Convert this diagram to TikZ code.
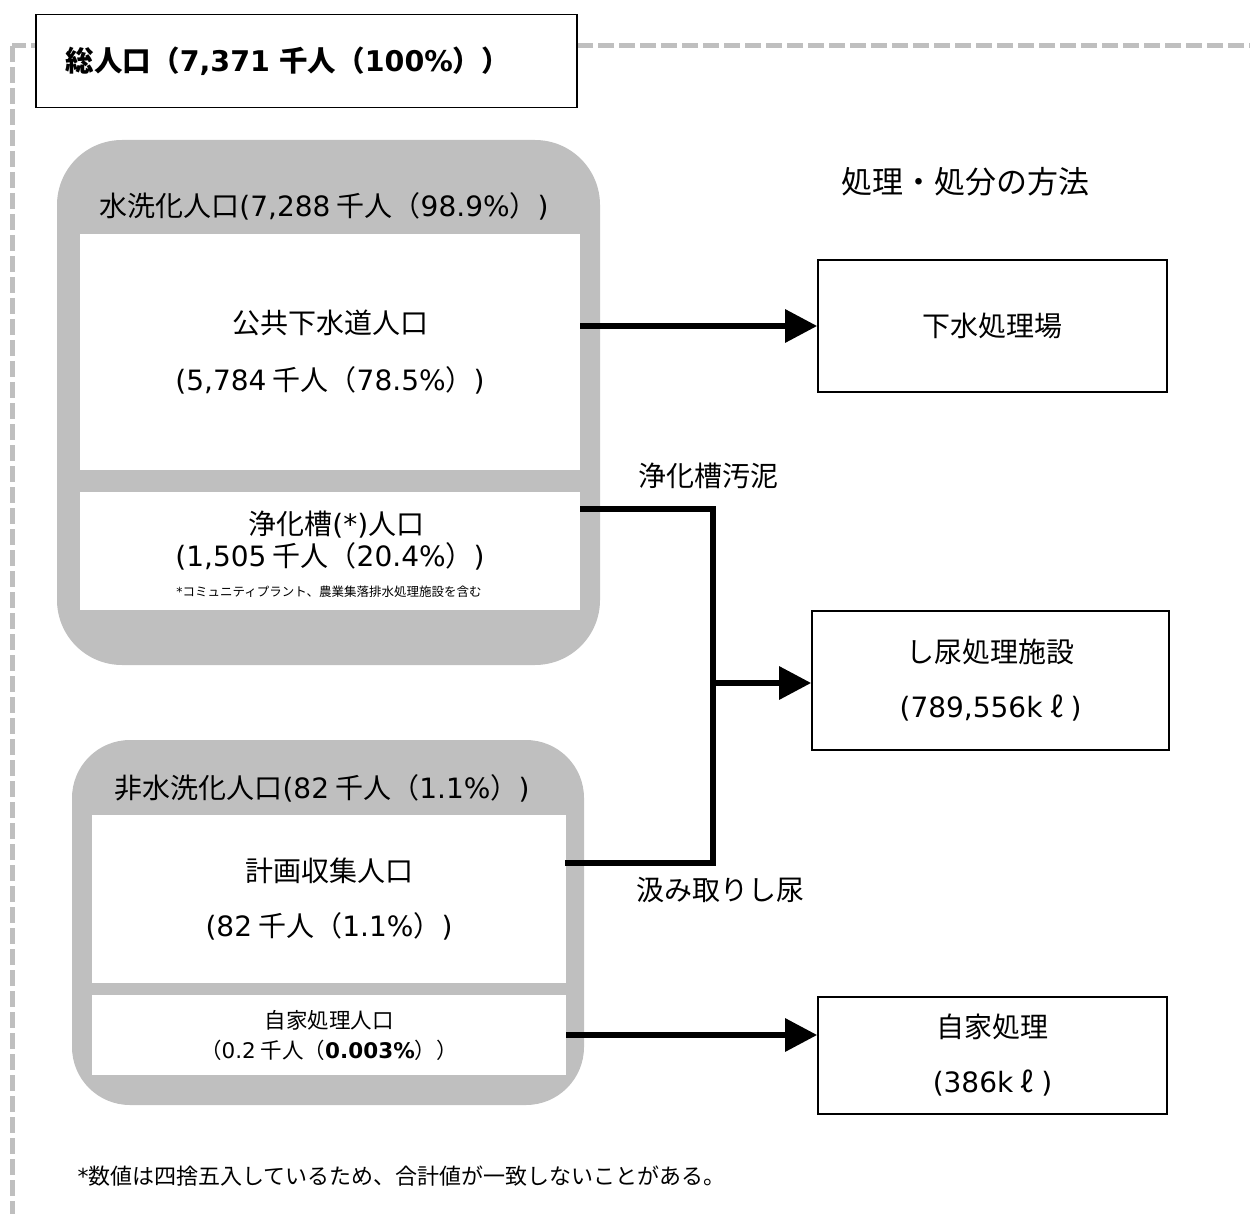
\documentclass[tikz,border=0pt]{standalone}
\usepackage{fontspec}
\setmainfont{Noto Sans CJK JP}
\newfontfamily\verd{DejaVu Sans}
\newcommand{\vd}[1]{{\verd #1}}
\newcommand{\litre}{\makebox[1em]{ℓ}}
\usetikzlibrary{arrows.meta}
\colorlet{pgray}{black!25}

\begin{document}
\begin{tikzpicture}[x=1pt, y=-1pt,
    panel/.style = {fill=pgray, rounded corners=65pt, inner sep=0pt},
    pop/.style = {fill=white, inner sep=0pt, align=center},
    dest/.style = {draw, line width=1.6pt, fill=white, inner sep=0pt, align=center, font=\fontsize{28}{55}\selectfont},
    flow/.style = {line width=6pt, -{Triangle[length=32pt, width=32pt]}},
    flow line/.style = {line width=6pt},
    big/.style = {font=\fontsize{28}{34}\selectfont}]
    \useasboundingbox (0,0) rectangle (1250,1214);
    \draw[pgray, line width=5pt, dash pattern=on 16pt off 5pt] (12,46) rectangle (1264,1216);

    \node[draw, line width=1.5pt, fill=white, anchor=west, minimum height=93pt, inner xsep=30pt, text width=481pt, align=left, font=\fontsize{28.5}{34}\selectfont\bfseries] (total) at (35,61) {総人口（\vd{7,371} 千人（\vd{100\%}））};

    \begin{scope}
        \node[panel, minimum width=543pt, minimum height=525pt] (flush) at (328.5,402.5) {};
        \node[big] (flush head) at (324,206) {水洗化人口\vd{(7,288} 千人（\vd{98.9\%}）\vd{)}};
        \node[pop, minimum width=500pt, minimum height=236pt, font=\fontsize{28}{57}\selectfont] (sewer pop) at (330,352) {公共下水道人口\\\vd{(5,784} 千人（\vd{78.5\%}）\vd{)}};
        \node[pop, minimum width=500pt, minimum height=118pt] (septic pop) at (330,551) {};
        \node[align=center, font=\fontsize{28}{32}\selectfont] (septic txt) at (330,541) {\ \ 浄化槽\vd{(*)}人口\\\vd{(1,505} 千人（\vd{20.4\%}）\vd{)}};
        \node[font=\fontsize{12.5}{15}\selectfont] (septic note) at (329,592) {\vd{*}コミュニティプラント、農業集落排水処理施設を含む};
    \end{scope}

    \begin{scope}
        \node[panel, rounded corners=58pt, minimum width=512pt, minimum height=365pt] (nonflush) at (328,922.5) {};
        \node[big] (nonflush head) at (322,788) {非水洗化人口\vd{(82} 千人（\vd{1.1\%}）\vd{)}};
        \node[pop, minimum width=474pt, minimum height=168pt, font=\fontsize{28}{55}\selectfont] (collect pop) at (329,899) {計画収集人口\\\vd{(82} 千人（\vd{1.1\%}）\vd{)}};
        \node[pop, minimum width=474pt, minimum height=80pt, font=\fontsize{21.5}{30}\selectfont] (home pop) at (329,1035) {自家処理人口\\（\vd{0.2} 千人（\textbf{\vd{0.003\%}}））};
    \end{scope}

    \node[font=\fontsize{31}{36}\selectfont] (method) at (965,182) {処理・処分の方法};
    \node[dest, minimum width=349pt, minimum height=132pt] (sewer works) at (992.5,326) {下水処理場};
    \node[dest, minimum width=357pt, minimum height=139pt] (soil works) at (990.5,680.5) {し尿処理施設\\\vd{(789,556k}\litre\vd{)}};
    \node[dest, minimum width=349pt, minimum height=117pt] (home works) at (992.5,1055.5) {自家処理\\\vd{(386k}\litre\vd{)}};

    \node[big] (sludge lbl) at (708,476) {浄化槽汚泥};
    \node[big] (soil lbl) at (720,890) {汲み取りし尿};

    \coordinate (sludge out) at (580,509);
    \coordinate (soil out) at (565,863);
    \coordinate (junc) at (713,683);

    \draw[flow] (sewer pop.east |- sewer works.west) -- (sewer works.west);
    \draw[flow line] (sludge out) -| (junc) |- (soil out);
    \draw[flow] (junc) -- (junc -| soil works.west);
    \draw[flow] (home pop.east) -- (home pop.east -| home works.west);

    \node[anchor=west, font=\fontsize{22}{26}\selectfont] (footnote) at (74,1176) {\vd{*}数値は四捨五入しているため、合計値が一致しないことがある。};
\end{tikzpicture}
\end{document}
